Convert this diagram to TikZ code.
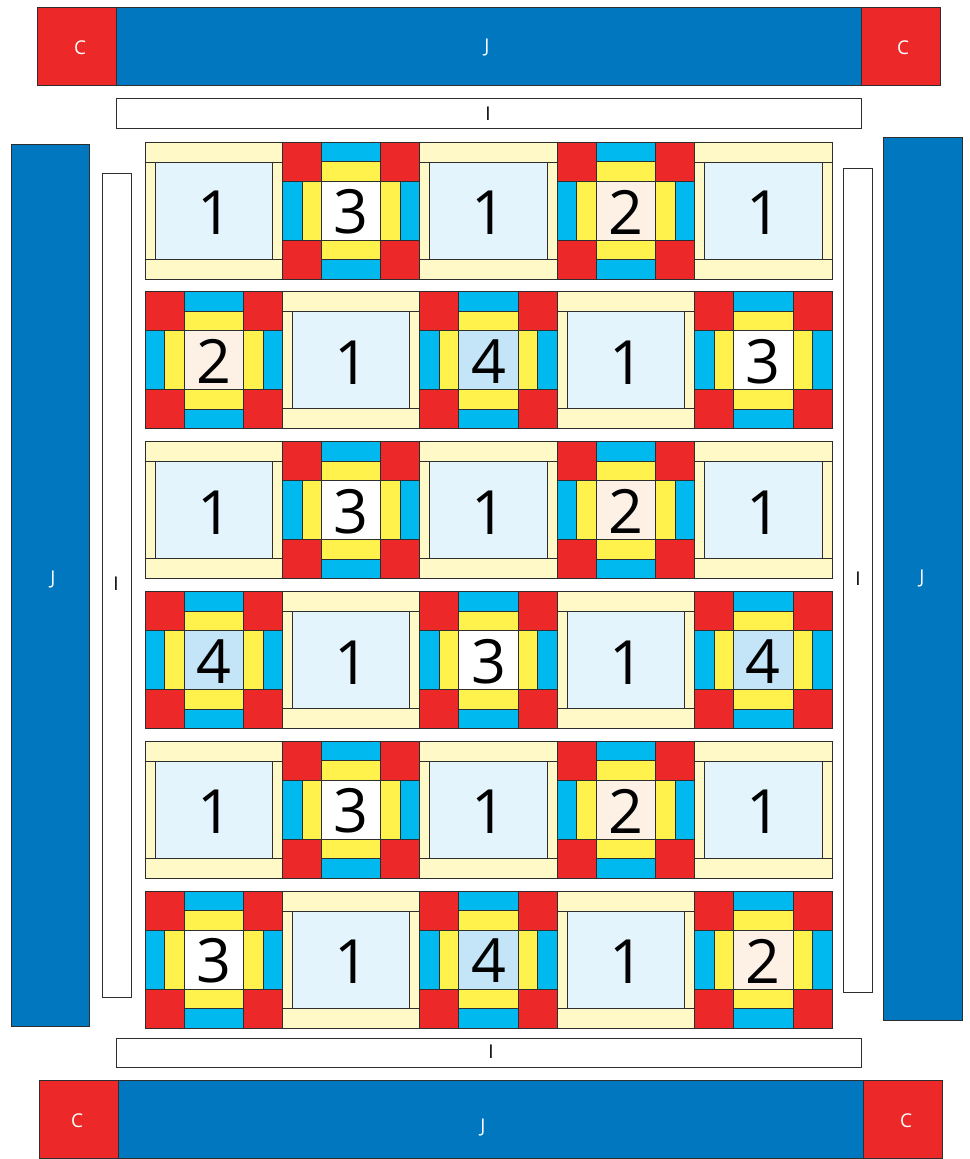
\documentclass[tikz,border=0pt]{standalone}
\usepackage{fontspec}
\setmainfont{Open Sans}
\definecolor{qred}{HTML}{ED2828}
\definecolor{qcyan}{HTML}{00B9EF}
\definecolor{qyel}{HTML}{FFF24C}
\definecolor{qblue}{HTML}{0077BE}
\definecolor{qlyel}{HTML}{FFF9C7}
\definecolor{qlblue}{HTML}{E3F4FC}
\definecolor{qpeach}{HTML}{FDF0E5}
\definecolor{qmblue}{HTML}{C4E4F7}
\definecolor{linec}{HTML}{2E2E2E}
\tikzset{
  edge/.style={draw=linec, line width=0.8pt},
  big/.style={font=\fontsize{61}{61}\selectfont, inner sep=0pt, text=black},
  smallw/.style={font=\fontsize{19}{19}\selectfont, inner sep=0pt, text=white},
  smallb/.style={font=\fontsize{19}{19}\selectfont, inner sep=0pt, text=black},
}
\newcommand\logcab[3]{%
  \begin{scope}[shift={(#1,#2)}]
    \filldraw[fill=qlyel,edge] (0,0) rectangle (137.4,137);
    \draw[edge] (0,20) -- (137.4,20) (0,117) -- (137.4,117);
    \filldraw[fill=qlblue,edge] (10,20) rectangle (127.4,117);
    \node[big] (#3) at (69.5,71) {1};
  \end{scope}}
\newcommand\ninepatch[5]{% x y label color name
  \begin{scope}[shift={(#1,#2)}]
    \filldraw[fill=qred,edge] (0,0) rectangle (39,39);
    \filldraw[fill=qred,edge] (98.4,0) rectangle (137.4,39);
    \filldraw[fill=qred,edge] (0,98) rectangle (39,137);
    \filldraw[fill=qred,edge] (98.4,98) rectangle (137.4,137);
    \filldraw[fill=qcyan,edge] (39,0) rectangle (98.4,19.5);
    \filldraw[fill=qyel,edge] (39,19.5) rectangle (98.4,39);
    \filldraw[fill=qyel,edge] (39,98) rectangle (98.4,117.5);
    \filldraw[fill=qcyan,edge] (39,117.5) rectangle (98.4,137);
    \filldraw[fill=qcyan,edge] (0,39) rectangle (19.5,98);
    \filldraw[fill=qyel,edge] (19.5,39) rectangle (39,98);
    \filldraw[fill=qyel,edge] (98.4,39) rectangle (117.9,98);
    \filldraw[fill=qcyan,edge] (117.9,39) rectangle (137.4,98);
    \filldraw[fill=#4,edge] (39,39) rectangle (98.4,98);
    \node[big] (#5) at (68.7,70) {#3};
  \end{scope}}
\newcommand\qblock[4]{% type x y name
  \ifcase#1\or
    \logcab{#2}{#3}{#4}\or
    \ninepatch{#2}{#3}{2}{qpeach}{#4}\or
    \ninepatch{#2}{#3}{3}{white}{#4}\or
    \ninepatch{#2}{#3}{4}{qmblue}{#4}\fi}
\begin{document}
\begin{tikzpicture}[x=1pt,y=-1pt]
\useasboundingbox (0,0) rectangle (969,1159);
% top bar
\filldraw[fill=qblue,edge] (116,7) rectangle (861,85);
\filldraw[fill=qred,edge] (37,7) rectangle (116,85);
\filldraw[fill=qred,edge] (861,7) rectangle (940,85);
\node[smallw] (tc1) at (80,48) {C};
\node[smallw] (tj) at (487,48) {J};
\node[smallw] (tc2) at (903,48) {C};
% top I
\filldraw[fill=white,edge] (116,98) rectangle (861,128);
\node[smallb] (ti) at (488,114) {I};
% left side
\filldraw[fill=qblue,edge] (11,144) rectangle (89,1026);
\node[smallw] (lj) at (53,579) {J};
\filldraw[fill=white,edge] (102,173) rectangle (131,997);
\node[smallb] (li) at (116,584) {I};
% right side
\filldraw[fill=white,edge] (843,168) rectangle (872,992);
\node[smallb] (ri) at (858,579) {I};
\filldraw[fill=qblue,edge] (883,137) rectangle (962,1020);
\node[smallw] (rj) at (922,578) {J};
% bottom I
\filldraw[fill=white,edge] (116,1038) rectangle (861,1067);
\node[smallb] (bi) at (491,1052) {I};
% bottom bar
\filldraw[fill=qblue,edge] (118,1080) rectangle (863,1158);
\filldraw[fill=qred,edge] (39,1080) rectangle (118,1158);
\filldraw[fill=qred,edge] (863,1080) rectangle (942,1158);
\node[smallw] (bc1) at (77,1121) {C};
\node[smallw] (bj) at (483,1127) {J};
\node[smallw] (bc2) at (906,1121) {C};
% quilt blocks
\foreach \row/\types in {0/{1,3,1,2,1},1/{2,1,4,1,3},2/{1,3,1,2,1},3/{4,1,3,1,4},4/{1,3,1,2,1},5/{3,1,4,1,2}}{
  \foreach \t [count=\c from 0] in \types {
    \pgfmathsetmacro\bx{145+137.4*\c}
    \pgfmathsetmacro\by{142+149.8*\row}
    \qblock{\t}{\bx}{\by}{b\row\c}
  }
}
\end{tikzpicture}
\end{document}
